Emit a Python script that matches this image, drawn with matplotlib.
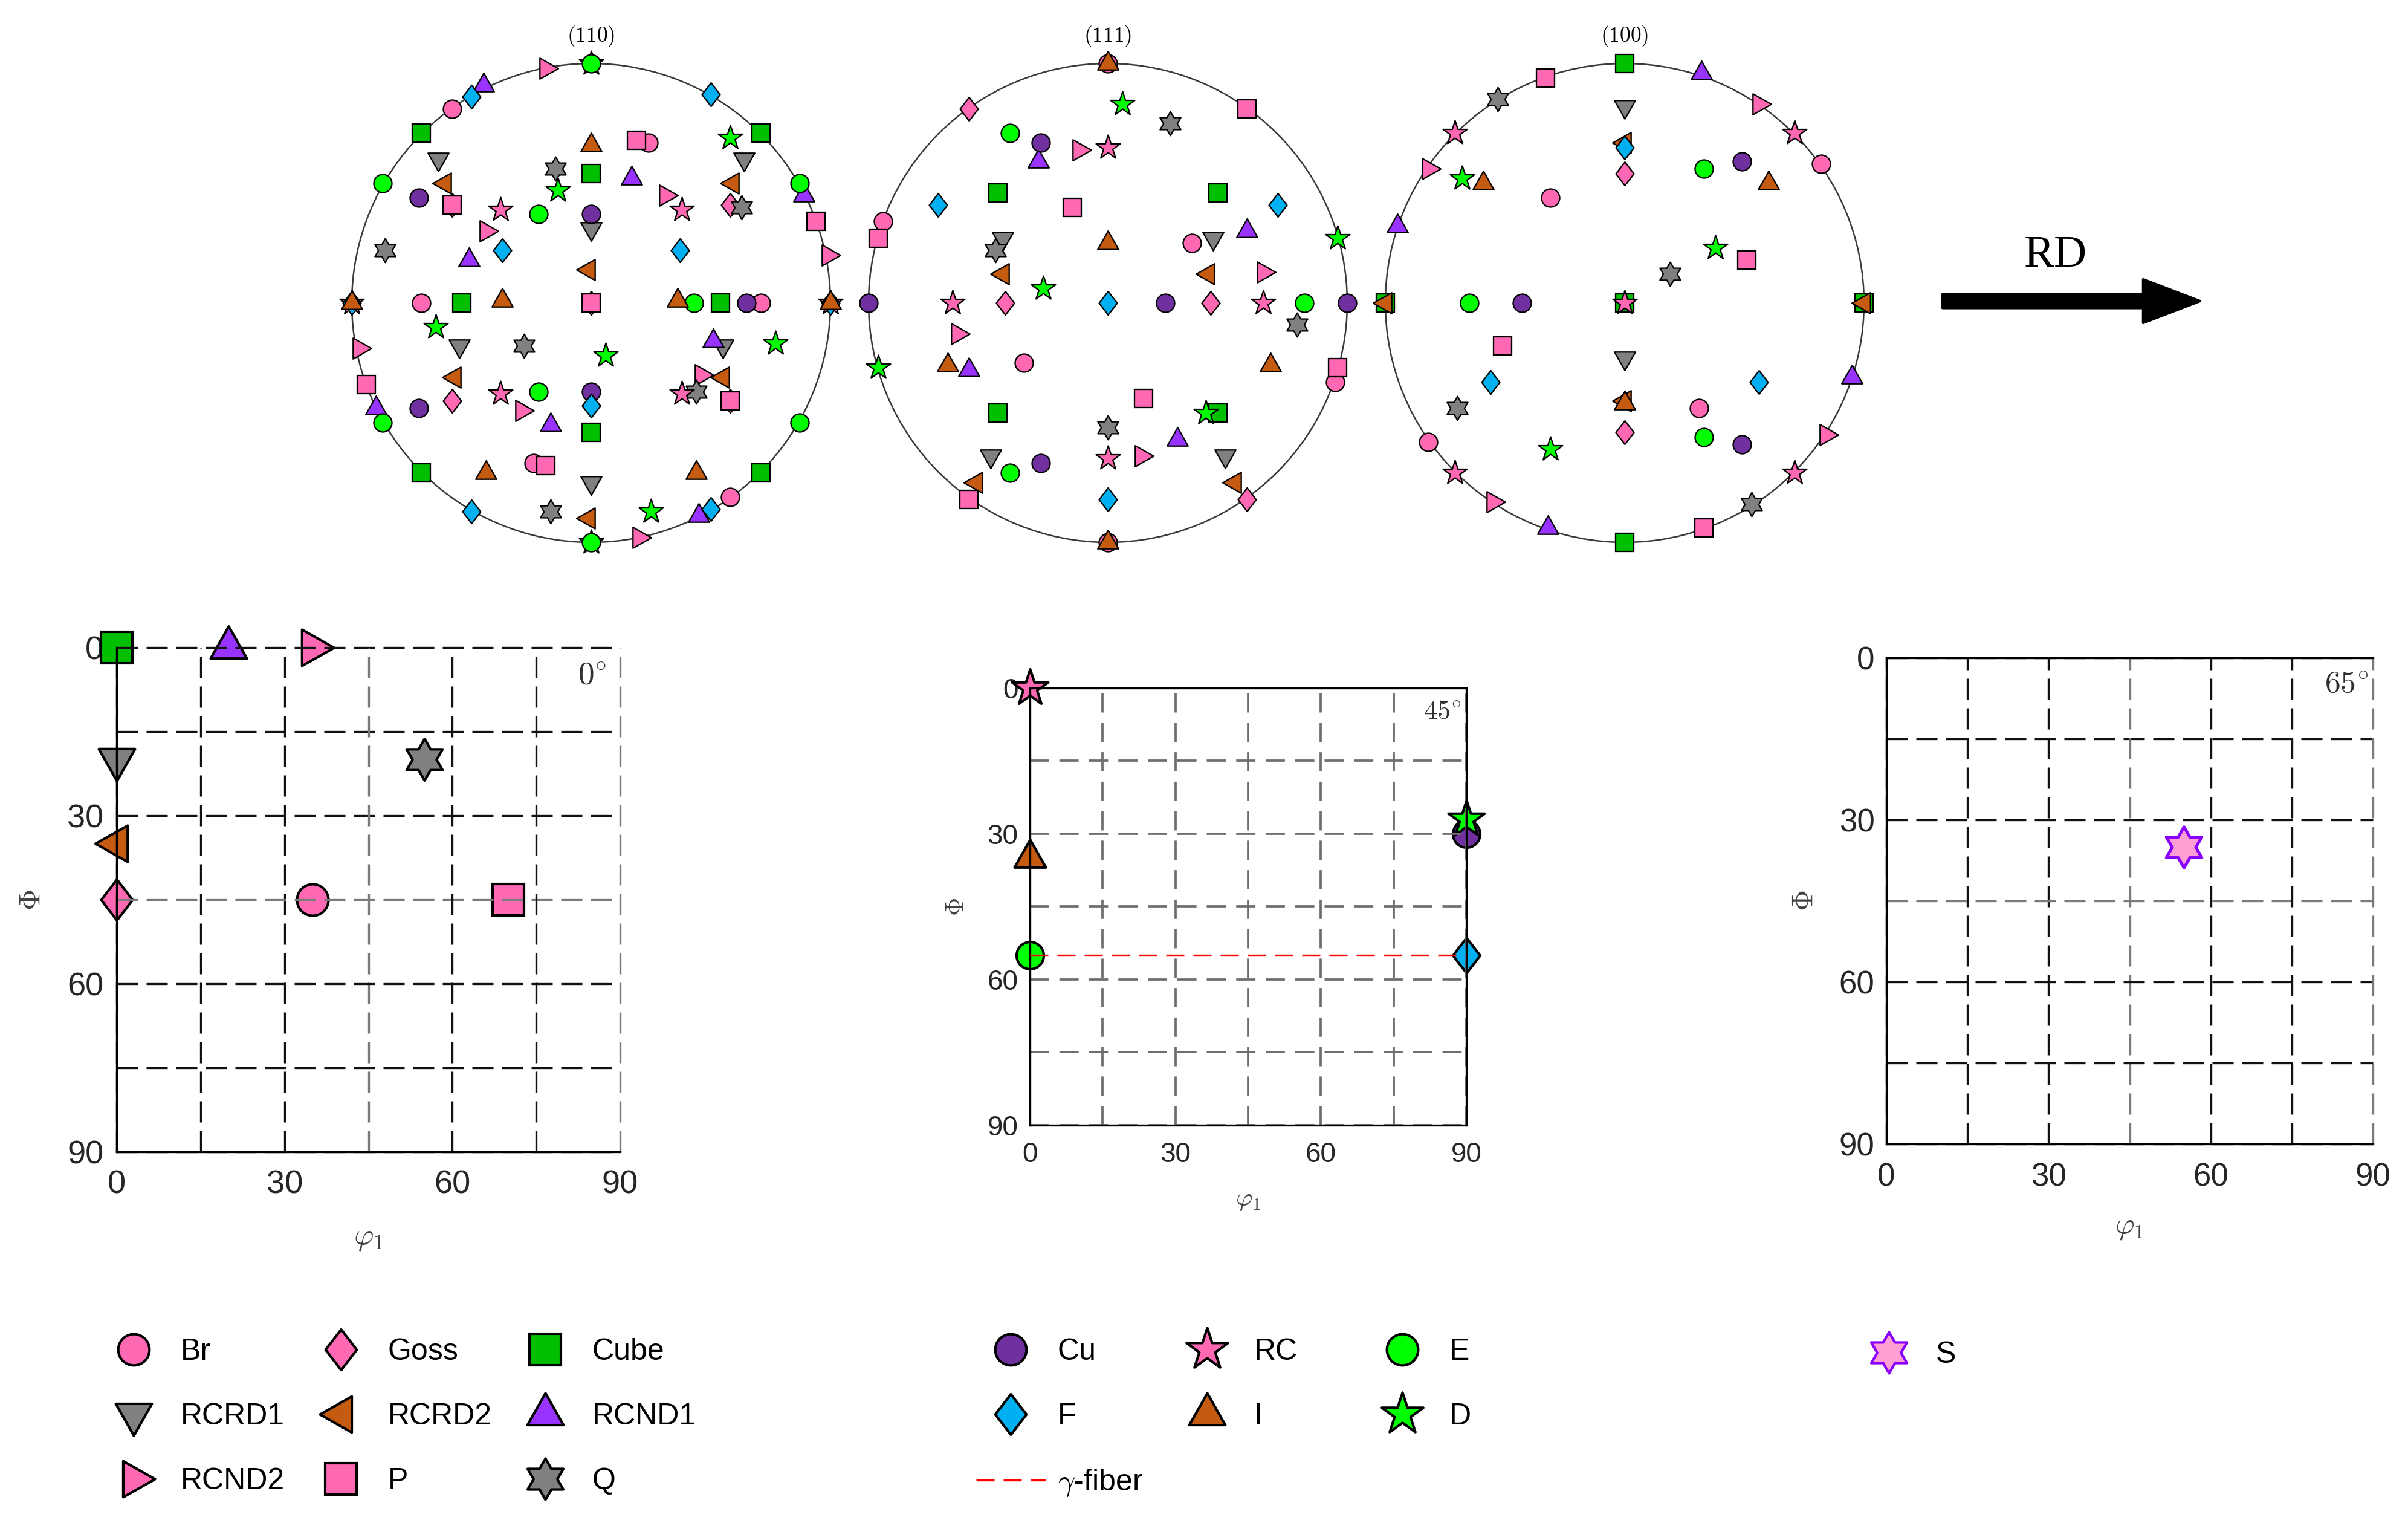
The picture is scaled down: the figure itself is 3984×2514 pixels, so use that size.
import numpy as np
import matplotlib.pyplot as plt
from matplotlib.path import Path
from matplotlib.patches import Circle, FancyArrowPatch
from matplotlib.lines import Line2D

plt.rcParams['font.family'] = ['Liberation Sans', 'DejaVu Sans']
plt.rcParams['mathtext.fontset'] = 'cm'

# texture components in legend / drawing order
components = ['Br', 'Goss', 'Cube', 'RCRD1', 'RCRD2', 'RCND1', 'RCND2', 'P', 'Q',
              'Cu', 'RC', 'E', 'F', 'I', 'D', 'S']

# ODF sections: phi1 and Phi (deg) of each component
odf0_names = ['Br', 'Goss', 'Cube', 'RCRD1', 'RCRD2', 'RCND1', 'RCND2', 'P', 'Q']
odf0_phi1 = [35, 0, 0, 0, 0, 20, 35, 70, 55]
odf0_Phi = [45, 45, 0, 20, 35, 0, 0, 45, 20]

odf45_names = ['Cu', 'RC', 'E', 'F', 'I', 'D']
odf45_phi1 = [90, 0, 0, 90, 0, 90]
odf45_Phi = [30, 0, 55, 55, 35, 27]

odf65_names = ['S']
odf65_phi1 = [55]
odf65_Phi = [35]

gamma_phi1 = [0, 90]
gamma_Phi = [55, 55]

# pole figure positions (unit circle, x = RD, y = TD)
pf110 = {
    'Br': [(-0.71, 0), (0.71, 0), (0.24, 0.67), (-0.24, -0.67), (-0.58, 0.81), (0.58, -0.81)],
    'Goss': [(0, 0), (-0.58, 0.41), (0.58, -0.41), (0.58, 0.41), (-0.58, -0.41)],
    'Cube': [(0, 0.54), (-0.54, 0), (0.54, 0), (0, -0.54),
             (-0.71, 0.71), (0.71, 0.71), (-0.71, -0.71), (0.71, -0.71)],
    'RCRD1': [(-0.64, 0.60), (0.64, 0.60), (-0.55, -0.18), (0.55, -0.18), (0, 0.31), (0, -0.75)],
    'RCRD2': [(-0.61, 0.50), (0.59, 0.50), (-0.57, -0.31), (0.55, -0.31), (-0.01, 0.14), (-0.01, -0.90)],
    'RCND1': [(-0.45, 0.91), (0.89, 0.45), (-0.90, -0.44), (0.45, -0.89),
              (-0.51, 0.18), (0.17, 0.52), (-0.17, -0.51), (0.51, -0.16)],
    'RCND2': [(-0.19, 0.98), (0.99, 0.20), (-0.97, -0.19), (0.20, -0.98),
              (-0.44, 0.30), (0.31, 0.45), (-0.29, -0.45), (0.46, -0.30)],
    'P': [(-0.58, 0.41), (0.58, -0.41), (0.19, 0.68), (-0.19, -0.68), (0, 0), (0.94, 0.34), (-0.94, -0.34)],
    'Q': [(-0.15, 0.56), (-0.86, 0.22), (-0.28, -0.18), (0.63, 0.40), (0.44, -0.37), (-0.17, -0.87)],
    'Cu': [(-0.72, 0.44), (0, 0.37), (-0.72, -0.44), (0, -0.37), (0.65, 0)],
    'RC': [(0, 1), (0, -1), (-1, 0), (1, 0), (-0.38, 0.39), (0.38, 0.39), (-0.38, -0.38), (0.38, -0.38)],
    'E': [(0, 1), (0, -1), (-0.87, 0.50), (0.87, 0.50), (-0.87, -0.50), (0.87, -0.50),
          (-0.22, 0.37), (-0.22, -0.37), (0.43, 0)],
    'F': [(-0.50, 0.86), (0.50, 0.87), (-0.50, -0.87), (0.50, -0.86),
          (-0.37, 0.22), (0.37, 0.22), (0, -0.43), (-1, 0), (1, 0)],
    'I': [(0, 0.66), (-0.37, 0.01), (0.36, 0.01), (-0.44, -0.71), (0.44, -0.71), (-1, 0), (1, 0)],
    'D': [(-0.14, 0.47), (-0.65, -0.10), (0.06, -0.22), (0.77, -0.17), (0.58, 0.69), (0.25, -0.87)],
}

pf111 = {
    'Br': [(0, 1), (0, -1), (-0.94, 0.34), (0.95, -0.33), (0.35, 0.25), (-0.35, -0.25)],
    'Goss': [(-0.58, 0.81), (0.58, -0.82), (-0.43, 0), (0.43, 0)],
    'Cube': [(-0.46, 0.46), (0.46, 0.46), (-0.46, -0.46), (0.46, -0.46)],
    'RCRD1': [(-0.44, 0.27), (0.44, 0.27), (-0.49, -0.64), (0.49, -0.64)],
    'RCRD2': [(-0.44, 0.12), (0.42, 0.12), (-0.55, -0.75), (0.53, -0.75)],
    'RCND1': [(-0.29, 0.59), (0.58, 0.30), (-0.58, -0.28), (0.29, -0.57)],
    'RCND2': [(-0.12, 0.64), (-0.63, -0.13), (0.65, 0.13), (0.14, -0.64)],
    'P': [(0.58, 0.81), (-0.58, -0.82), (-0.96, 0.27), (0.96, -0.27), (-0.15, 0.40), (0.15, -0.40)],
    'Q': [(0.26, 0.75), (-0.47, 0.22), (0.79, -0.09), (0, -0.52)],
    'Cu': [(-0.28, 0.67), (-0.28, -0.67), (0.24, 0), (-1, 0), (1, 0)],
    'RC': [(0, 0.65), (-0.65, 0), (0.65, 0), (0, -0.65)],
    'E': [(-0.41, 0.71), (-0.41, -0.71), (0.82, 0)],
    'F': [(-0.71, 0.41), (0.71, 0.41), (0, 0), (0, -0.82)],
    'I': [(0, 0.25), (-0.67, -0.26), (0.68, -0.26), (0, 1), (0, -1)],
    'D': [(0.06, 0.83), (0.96, 0.27), (-0.96, -0.27), (-0.27, 0.06), (0.41, -0.46)],
}

pf100 = {
    'Br': [(-0.31, 0.44), (0.82, 0.58), (-0.82, -0.58), (0.31, -0.44)],
    'Goss': [(0, 0.54), (0, -0.54)],
    'Cube': [(0, 1), (0, -1), (-1, 0), (1, 0), (0, 0)],
    'RCRD1': [(0, 0.82), (0, -0.23)],
    'RCRD2': [(0, 0.67), (0, -0.41), (-1, 0), (1, 0)],
    'RCND1': [(0.32, 0.96), (-0.95, 0.32), (-0.32, -0.94), (0.95, -0.31)],
    'RCND2': [(-0.82, 0.56), (0.56, 0.83), (-0.55, -0.83), (0.84, -0.55)],
    'P': [(-0.33, 0.94), (0.33, -0.94), (0.51, 0.18), (-0.51, -0.18)],
    'Q': [(-0.53, 0.85), (0.53, -0.84), (0.19, 0.12), (-0.70, -0.44)],
    'Cu': [(0.49, 0.59), (-0.43, 0), (0.49, -0.59)],
    'RC': [(-0.71, 0.71), (0.71, 0.71), (-0.71, -0.71), (0.71, -0.71), (0, 0)],
    'E': [(0.33, 0.56), (-0.65, 0), (0.33, -0.56)],
    'F': [(0, 0.65), (-0.56, -0.33), (0.56, -0.33)],
    'I': [(-0.59, 0.50), (0.60, 0.50), (0, -0.42)],
    'D': [(-0.68, 0.52), (0.38, 0.23), (-0.31, -0.61)],
}

# ---------------- marker shapes (in units of a circle diameter) ----------------
def closed(v):
    v = np.asarray(v, float)
    return Path(np.vstack([v, v[:1]]), closed=True)


def star(n, inner, r):
    s = Path.unit_regular_star(n, inner)
    return Path(s.vertices * r, s.codes)


tri_up = closed([(0, 0.68), (-0.577, -0.34), (0.577, -0.34)])
tri_down = closed([(0, -0.68), (0.577, 0.34), (-0.577, 0.34)])
tri_left = closed([(-0.68, 0), (0.34, -0.577), (0.34, 0.577)])
tri_right = closed([(0.68, 0), (-0.34, 0.577), (-0.34, -0.577)])
diamond = closed([(0, 0.65), (0.5, 0), (0, -0.65), (-0.5, 0)])
pentagram = star(5, 0.382, 0.70)
hexagram = star(6, 0.577, 0.66)

pink = '#FF69B4'
grey = '#808080'
brown = '#C55A11'
cube_green = '#00BF00'
e_green = '#00FF00'
purple = '#9933FF'
cu_purple = '#7030A0'
blue = '#00B0F0'

# shape, face, edge
style = {
    'Br': ('o', pink, 'k'), 'Goss': (diamond, pink, 'k'), 'Cube': ('s', cube_green, 'k'),
    'RCRD1': (tri_down, grey, 'k'), 'RCRD2': (tri_left, brown, 'k'), 'RCND1': (tri_up, purple, 'k'),
    'RCND2': (tri_right, pink, 'k'), 'P': ('s', pink, 'k'), 'Q': (hexagram, grey, 'k'),
    'Cu': ('o', cu_purple, 'k'), 'RC': (pentagram, pink, 'k'), 'E': ('o', e_green, 'k'),
    'F': (diamond, blue, 'k'), 'I': (tri_up, brown, 'k'), 'D': (pentagram, e_green, 'k'),
    'S': (hexagram, '#FF9ED2', '#8A00FF'),
}


def marker_kw(name, size, lw):
    shape, fc, ec = style[name]
    f = 1.0 if isinstance(shape, str) else 2 * np.abs(shape.vertices).max()
    return dict(linestyle='none', marker=shape, markersize=size * f,
                markerfacecolor=fc, markeredgecolor=ec, markeredgewidth=lw)


W, H = 3984, 2514
fig = plt.figure(figsize=(W / 300, H / 300), dpi=300)

# ---------------- pole figures ----------------
L = 1.15
R_px = 396
pole_figs = [(978, r'$\mathbf{(110)}$', pf110), (1833, r'$\mathbf{(111)}$', pf111),
             (2688, r'$(100)$', pf100)]
cy = 501
for cx, title, poles in pole_figs:
    half = L * R_px
    ax = fig.add_axes([(cx - half) / W, (H - cy - half) / H, 2 * half / W, 2 * half / H])
    ax.set_xlim(-L, L)
    ax.set_ylim(-L, L)
    ax.axis('off')
    ax.add_patch(Circle((0, 0), 1, fill=False, ec='#3a3a3a', lw=0.6))
    for name in components:
        if name in poles:
            pts = np.array(poles[name], float)
            ax.plot(pts[:, 0], pts[:, 1], clip_on=False, zorder=3,
                    **marker_kw(name, 7.2, 0.55))
    fig.text(cx / W, 1 - 60 / H, title, ha='center', va='center', fontsize=8.5)

# RD arrow
fig.add_artist(FancyArrowPatch((3214 / W, 1 - 498 / H), (3640 / W, 1 - 498 / H),
                               transform=fig.transFigure, mutation_scale=1,
                               arrowstyle='simple,head_length=22.6,head_width=17.3,tail_width=5.5',
                               color='k', shrinkA=0, shrinkB=0))
fig.text(3401 / W, 1 - 423 / H, 'RD', family='Liberation Serif', fontsize=18,
         ha='center', va='center')

# ---------------- ODF sections ----------------
grid_vals = [0, 15, 30, 45, 60, 75, 90]


def odf_panel(box, names, phi1, Phi, section, fs, msize, grid_col, mid_col, pads,
              solid_sides, dash):
    x0, y0, x1, y1 = box
    ax = fig.add_axes([x0 / W, 1 - y1 / H, (x1 - x0) / W, (y1 - y0) / H])
    ax.set_xlim(0, 90)
    ax.set_ylim(90, 0)
    ax.set_xticks([0, 30, 60, 90])
    ax.set_yticks([0, 30, 60, 90])
    ax.tick_params(length=0, labelsize=fs, labelcolor='#262626')
    ax.tick_params(axis='x', pad=pads[0])
    ax.tick_params(axis='y', pad=pads[1])
    for side in ['left', 'right', 'top', 'bottom']:
        ax.spines[side].set_visible(side in solid_sides)
        ax.spines[side].set_linewidth(0.8)
        ax.spines[side].set_zorder(5)
    for g in grid_vals:
        c = mid_col if g in (45, 90) else grid_col
        ax.axvline(g, color=c, lw=dash[0], linestyle=(0, dash[1]), zorder=4, clip_on=False)
        c = mid_col if g == 45 else grid_col
        ax.axhline(g, color=c, lw=dash[0], linestyle=(0, dash[1]), zorder=4, clip_on=False)
    for name, a, b in zip(names, phi1, Phi):
        lw = 1.2 if name == 'S' else 1.0
        ax.plot([a], [b], clip_on=False, zorder=3, **marker_kw(name, msize, lw))
    ax.text(0.5, -0.172, r'$\varphi_1$', transform=ax.transAxes, ha='center', va='center',
            fontsize=fs * 0.92, color='#404040')
    ax.text(-0.168, 0.5, r'$\Phi$', transform=ax.transAxes, ha='center', va='center',
            fontsize=fs * 0.92, color='#404040', rotation=90)
    ax.text(0.945, 0.945, r'$%d^{\circ}$' % section, transform=ax.transAxes, ha='center',
            va='center', fontsize=fs * 0.98, color='#303030')
    return ax


odf_panel((193, 1071, 1026, 1905), odf0_names, odf0_phi1, odf0_Phi, 0, 13, 12.5,
          '#111111', '#7a7a7a', (7, 5.2), ['left', 'bottom'], (0.8, (10.5, 4.2)))
ax45 = odf_panel((1704, 1138, 2426, 1861), odf45_names, odf45_phi1, odf45_Phi, 45, 11, 10.8,
                 '#6e6e6e', '#6e6e6e', (6.5, 4.7), ['left', 'bottom', 'top', 'right'],
                 (0.9, (8.5, 4.5)))
ax45.plot(gamma_phi1, gamma_Phi, color='red', lw=0.8, linestyle=(0, (9, 4.5)), zorder=6,
          clip_on=False)
odf_panel((3121, 1088, 3926, 1892), odf65_names, odf65_phi1, odf65_Phi, 65, 12.7, 12.3,
          '#111111', '#7a7a7a', (7.4, 4.7), ['left', 'bottom', 'top'], (0.8, (10.5, 4.2)))

# ---------------- legends ----------------
leg_rows = [2234, 2340, 2447]
leg_cols = [
    (221, ['Br', 'RCRD1', 'RCND2']),
    (564, ['Goss', 'RCRD2', 'P']),
    (902, ['Cube', 'RCND1', 'Q']),
    (1672, ['Cu', 'F', 'gamma']),
    (1997, ['RC', 'I']),
    (2320, ['E', 'D']),
]
leg_fs = 12
hl = 2.3
fs_px = leg_fs * 300 / 72
for mx, names in leg_cols + [(3125, ['S'])]:
    handles, labels = [], []
    for name in names:
        if name == 'gamma':
            handles.append(Line2D([], [], color='red', lw=0.8, linestyle=(0, (9, 4.5))))
            labels.append(r'$\gamma$-fiber')
        else:
            handles.append(Line2D([], [], **marker_kw(name, 12.4, 1.0)))
            labels.append(name)
    top = (leg_rows[0] if names != ['S'] else 2239) - 0.42 * fs_px
    left = mx - hl / 2 * fs_px
    fig.legend(handles, labels, loc='upper left', bbox_to_anchor=(left / W, 1 - top / H),
               frameon=False, fontsize=leg_fs, borderpad=0, borderaxespad=0,
               handlelength=hl, handletextpad=0.4, labelspacing=1.22)

fig.savefig('out.png', dpi=300)
